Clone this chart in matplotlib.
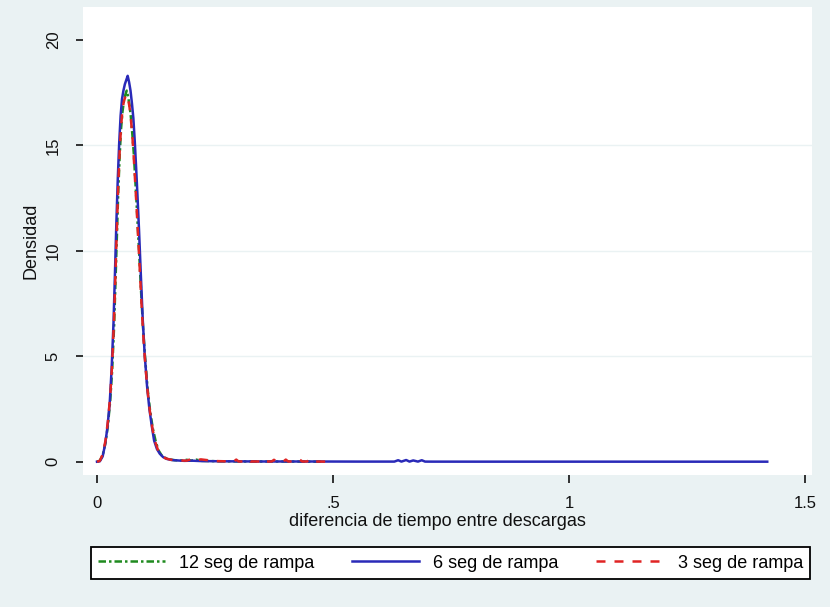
import matplotlib
matplotlib.use("Agg")
import matplotlib.pyplot as plt

plt.rcParams['font.family'] = ['Liberation Sans', 'DejaVu Sans']

# ---- data ----
x_12 = [0.0, 0.006, 0.012, 0.018, 0.023, 0.028, 0.032, 0.036, 0.039, 0.042, 0.045, 0.048,
        0.051, 0.054, 0.057, 0.060, 0.063, 0.066, 0.069, 0.072, 0.075, 0.078, 0.081, 0.084,
        0.087, 0.090, 0.094, 0.098, 0.102, 0.107, 0.112, 0.118, 0.124, 0.130, 0.137, 0.145,
        0.155, 0.165, 0.18, 0.19, 0.2, 0.21, 0.22, 0.26, 0.32, 0.4, 0.48]
y_12 = [0.0, 0.05, 0.3, 0.9, 1.7, 2.9, 4.3, 6.3, 8.4, 10.6, 12.8, 14.5,
        15.8, 16.6, 17.1, 17.4, 17.6, 17.3, 16.9, 16.3, 15.5, 14.6, 13.4, 12.2,
        10.9, 9.6, 7.8, 6.2, 4.9, 3.5, 2.5, 1.6, 1.0, 0.55, 0.3, 0.18,
        0.1, 0.07, 0.06, 0.09, 0.05, 0.1, 0.04, 0.02, 0.01, 0.01, 0.0]

x_6 = [0.0, 0.006, 0.012, 0.017, 0.022, 0.027, 0.031, 0.035, 0.038, 0.041, 0.044, 0.047,
       0.050, 0.053, 0.056, 0.059, 0.062, 0.065, 0.068, 0.071, 0.074, 0.077, 0.080, 0.083,
       0.086, 0.089, 0.093, 0.097, 0.101, 0.106, 0.111, 0.116, 0.121, 0.127, 0.133, 0.140,
       0.148, 0.158, 0.170, 0.185, 0.2, 0.22, 0.26, 0.35, 0.45, 0.55, 0.63, 0.638, 0.645,
       0.655, 0.662, 0.67, 0.68, 0.688, 0.695, 0.71, 0.8, 1.0, 1.2, 1.42]
y_6 = [0.0, 0.02, 0.25, 0.8, 1.6, 2.8, 4.4, 6.6, 8.9, 11.3, 13.4, 15.1,
       16.4, 17.2, 17.6, 17.9, 18.1, 18.3, 18.0, 17.6, 17.0, 16.3, 15.2, 13.9,
       12.5, 11.0, 8.8, 6.7, 5.1, 3.6, 2.5, 1.7, 1.0, 0.6, 0.38, 0.22,
       0.13, 0.08, 0.06, 0.04, 0.05, 0.03, 0.02, 0.01, 0.01, 0.005, 0.005, 0.07, 0.005,
       0.08, 0.005, 0.06, 0.005, 0.07, 0.005, 0.003, 0.002, 0.002, 0.001, 0.001]

x_3 = [0.0, 0.006, 0.012, 0.018, 0.023, 0.028, 0.032, 0.036, 0.039, 0.042, 0.045, 0.048,
       0.051, 0.054, 0.057, 0.060, 0.063, 0.066, 0.069, 0.072, 0.075, 0.078, 0.081, 0.084,
       0.087, 0.090, 0.094, 0.098, 0.102, 0.107, 0.112, 0.118, 0.124, 0.130, 0.137, 0.145,
       0.155, 0.17, 0.19, 0.2, 0.21, 0.22, 0.25, 0.29, 0.295, 0.30, 0.315, 0.32, 0.325,
       0.345, 0.35, 0.355, 0.37, 0.375, 0.38, 0.395, 0.40, 0.405, 0.425, 0.43, 0.435,
       0.445, 0.45, 0.455, 0.5]
y_3 = [0.0, 0.04, 0.35, 1.0, 1.9, 3.1, 4.6, 6.7, 8.8, 11.0, 13.1, 14.7,
       15.9, 16.7, 17.1, 17.3, 17.4, 17.2, 16.8, 16.2, 15.4, 14.4, 13.2, 12.0,
       10.7, 9.4, 7.6, 6.0, 4.7, 3.4, 2.4, 1.5, 0.9, 0.5, 0.28, 0.16,
       0.1, 0.06, 0.05, 0.12, 0.06, 0.11, 0.03, 0.01, 0.1, 0.01, 0.01, 0.09, 0.01,
       0.01, 0.1, 0.01, 0.01, 0.09, 0.01, 0.01, 0.1, 0.01, 0.01, 0.09, 0.01,
       0.01, 0.1, 0.01, 0.0]

series_labels = ["12 seg de rampa", "6 seg de rampa", "3 seg de rampa"]
x_ticks = [0, 0.5, 1, 1.5]
x_ticklabels = ["0", ".5", "1", "1.5"]
y_ticks = [0, 5, 10, 15, 20]
y_ticklabels = ["0", "5", "10", "15", "20"]
x_title = "diferencia de tiempo entre descargas"
y_title = "Densidad"

# ---- figure ----
W, H = 830, 607
bg = "#EAF2F3"
fig = plt.figure(figsize=(W / 100, H / 100), dpi=100, facecolor=bg)
ax = fig.add_axes([83 / W, 1 - 475 / H, (812 - 83) / W, (475 - 7) / H])
ax.set_facecolor("white")
for s in ax.spines.values():
    s.set_visible(False)

l1, = ax.plot(x_12, y_12, color="#1f8a1f", lw=1.8, linestyle=(0, (3, 1.2, 1, 1.2)),
              label=series_labels[0])
l2, = ax.plot(x_6, y_6, color="#2a2ab8", lw=1.8, linestyle="-", label=series_labels[1])
l3, = ax.plot(x_3, y_3, color="#e02424", lw=1.8, linestyle=(0, (3.6, 3.6)), label=series_labels[2])

ax.set_xlim(-14 / 472, 1.5 + 7 / 472)
ax.set_ylim(-13.3 / 21.085, 20 + 33 / 21.085)

ax.set_xticks(x_ticks)
ax.set_xticklabels(x_ticklabels)
ax.set_yticks(y_ticks)
ax.set_yticklabels(y_ticklabels, rotation=90, va="center")

ax.tick_params(axis="x", direction="out", length=6, width=1.3, color="#222222",
               pad=9, labelsize=12, labelcolor="#111111")
ax.tick_params(axis="y", direction="out", length=5, width=1.3, color="#222222",
               pad=11, labelsize=12, labelcolor="#111111")

# faint gridlines at interior y ticks
for yv in y_ticks[1:-1]:
    ax.axhline(yv, color="#EAF2F3", lw=1.0, zorder=0)

ax.set_xlabel(x_title, fontsize=13, color="#111111")
ax.xaxis.set_label_coords((437 - 83) / 729, (475 - 521) / 468)
ax.xaxis.label.set_va("center")
ax.set_ylabel(y_title, fontsize=13, color="#111111")
ax.yaxis.set_label_coords((31 - 83) / 729, 0.5)
ax.yaxis.label.set_va("center")

leg = fig.legend(handles=[l1, l2, l3], labels=series_labels, ncol=3,
                 loc="center", bbox_to_anchor=(91 / W, 1 - 581 / H, (810 - 91) / W, 36 / H),
                 mode="expand", fontsize=13, frameon=True, fancybox=False,
                 edgecolor="black", facecolor="white", framealpha=1,
                 handlelength=3.7, handletextpad=0.8, columnspacing=1.8,
                 borderpad=0.4, borderaxespad=0)
leg.get_frame().set_linewidth(1.3)

fig.savefig("out.png", dpi=100, facecolor=bg)
